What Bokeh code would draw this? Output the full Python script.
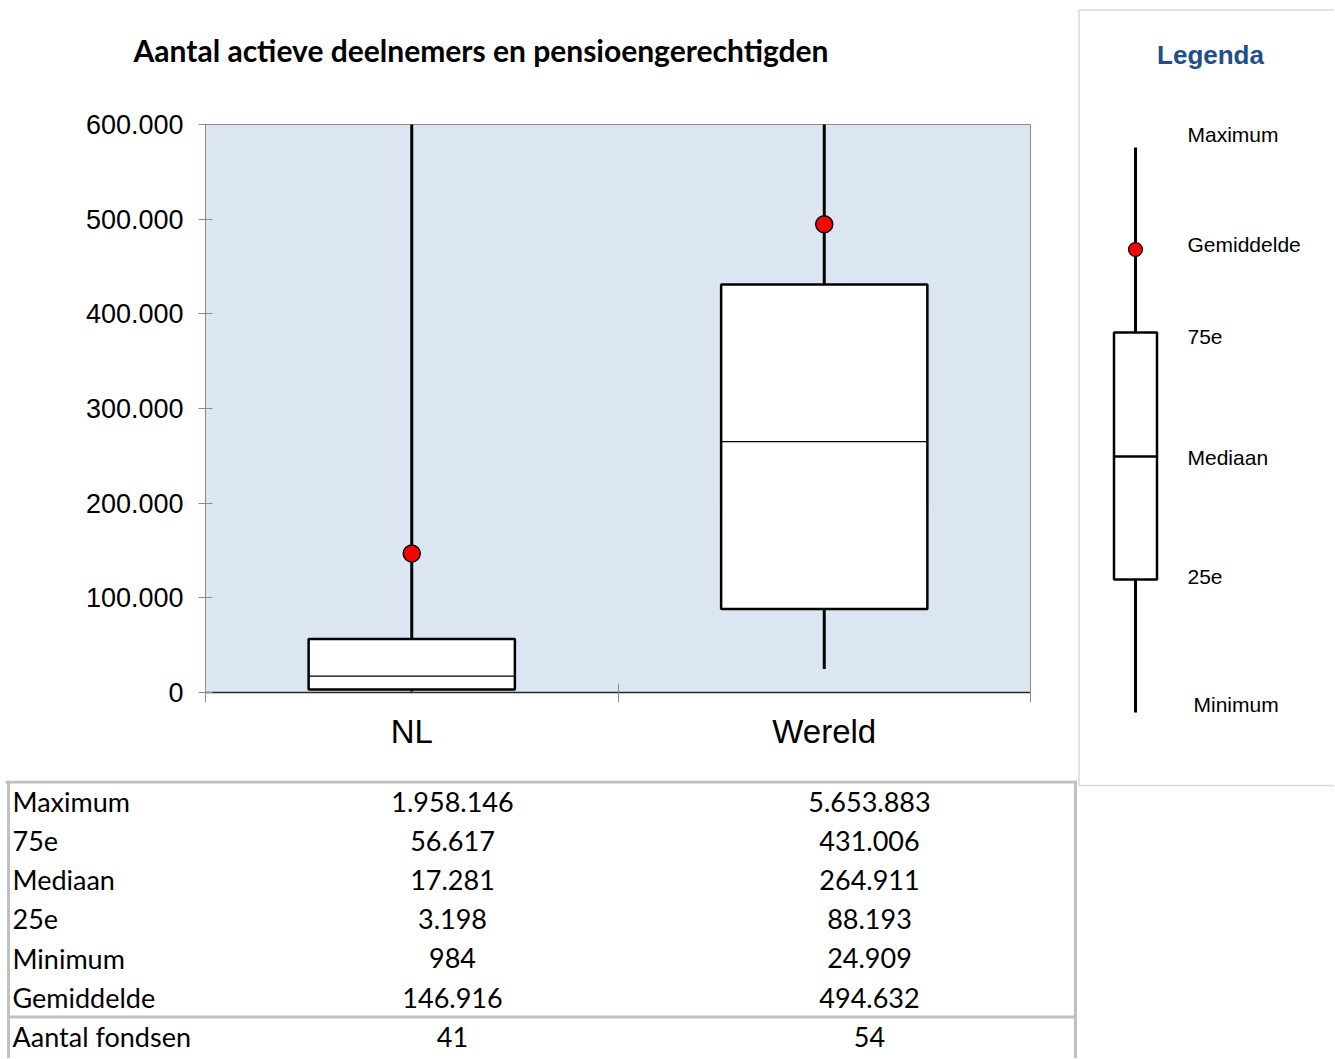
from bokeh.plotting import figure
from bokeh.models import Range1d, FixedTicker
from bokeh.layouts import row, column
from bokeh.core.properties import value
from bokeh.embed import file_html
from bokeh.resources import INLINE

# ---------------- data ----------------
title_text = "Aantal  actieve deelnemers en pensioengerechtigden"
categories = ["NL", "Wereld"]
maximum = [1958146, 5653883]
q75 = [56617, 431006]
median = [17281, 264911]
q25 = [3198, 88193]
minimum = [984, 24909]
mean = [146916, 494632]
n_funds = [41, 54]

row_labels = ["Maximum", "75e", "Mediaan", "25e", "Minimum", "Gemiddelde", "Aantal fondsen"]
y_ticks = [0, 100000, 200000, 300000, 400000, 500000, 600000]
y_max = 600000

legend_title = "Legenda"
legend_labels = ["Maximum", "Gemiddelde", "75e", "Mediaan", "25e", "Minimum"]


def nl_fmt(v):
    return f"{v:,}".replace(",", ".")


def blank_panel(w, h):
    f = figure(output_backend="svg", toolbar_location=None, width=w, height=h,
               x_range=Range1d(0, w), y_range=Range1d(h, 0),
               min_border=0, border_fill_color="white", background_fill_color="white")
    f.frame_align = False
    f.axis.visible = False
    f.grid.visible = False
    f.outline_line_color = None
    return f


# ---------------- header (title) ----------------
HEAD_H = 100
hd = blank_panel(1077, HEAD_H)
hd.text(x=[133], y=[49], text=[title_text], text_align="left", text_baseline="middle",
        text_font=value("Lato"), text_font_style="bold",
        text_font_size=value("30px"), text_color="black")

# ---------------- main chart ----------------
MAIN_W, MAIN_H = 1077, 680
FRAME_W, FRAME_H = 825, 568
BL, BT = 205, 124 - HEAD_H

p = figure(output_backend="svg", toolbar_location=None,
           frame_width=FRAME_W, frame_height=FRAME_H,
           min_border_left=BL, min_border_right=MAIN_W - BL - FRAME_W,
           min_border_top=BT, min_border_bottom=MAIN_H - BT - FRAME_H,
           x_range=Range1d(0, len(categories)), y_range=Range1d(0, y_max),
           background_fill_color="#DCE6F2", border_fill_color="white")
p.frame_align = False
p.outline_line_color = "#8C8C8C"
p.outline_line_width = 1
p.grid.visible = False

xs = [i + 0.5 for i in range(len(categories))]

# y axis
ya = p.yaxis[0]
ya.ticker = FixedTicker(ticks=y_ticks)
ya.major_label_overrides = {t: nl_fmt(t) for t in y_ticks}
ya.major_label_text_font = "Liberation Sans"
ya.major_label_text_font_size = "27px"
ya.major_label_text_color = "black"
ya.axis_line_color = "#8C8C8C"
ya.major_tick_line_color = "#8C8C8C"
ya.major_tick_in = 7
ya.major_tick_out = 7
ya.major_label_standoff = 15
ya.minor_tick_line_color = None

# x axis
xa = p.xaxis[0]
xa.ticker = FixedTicker(ticks=xs, minor_ticks=list(range(len(categories) + 1)))
xa.major_label_overrides = {x: c for x, c in zip(xs, categories)}
xa.major_label_text_font = "Liberation Sans"
xa.major_label_text_font_size = "33px"
xa.major_label_text_color = "black"
xa.major_tick_line_color = None
xa.major_tick_in = 0
xa.major_tick_out = 0
xa.major_label_standoff = 10
xa.minor_tick_line_color = "#8C8C8C"
xa.minor_tick_in = 9
xa.minor_tick_out = 10
xa.axis_line_color = "#262626"
xa.axis_line_width = 1.5

# whiskers
p.segment(x0=xs, y0=q75, x1=xs, y1=maximum, line_color="black", line_width=3)
p.segment(x0=xs, y0=minimum, x1=xs, y1=q25, line_color="black", line_width=3)
# boxes
p.vbar(x=xs, width=0.5, top=q75, bottom=q25, fill_color="white",
       line_color="black", line_width=2.5)
# median
p.segment(x0=[x - 0.25 for x in xs], y0=median, x1=[x + 0.25 for x in xs], y1=median,
          line_color="black", line_width=1.2)
# mean
p.scatter(x=xs, y=mean, size=17, marker="circle", fill_color="#FF0000",
          line_color="black", line_width=1.5)

# ---------------- table ----------------
TAB_W, TAB_H = 1077, 278
t = blank_panel(TAB_W, TAB_H)

ROW0, ROWH = 21, 39.2
row_y = [ROW0 + i * ROWH for i in range(len(row_labels))]
col_nl, col_w = 452, 869
nl_vals = [maximum[0], q75[0], median[0], q25[0], minimum[0], mean[0], n_funds[0]]
w_vals = [maximum[1], q75[1], median[1], q25[1], minimum[1], mean[1], n_funds[1]]

# borders
sep_y = row_y[5] + ROWH / 2
t.segment(x0=[5, 8, 1075, 8], y0=[1.5, 0, 0, sep_y],
          x1=[1077, 8, 1075, 1075], y1=[1.5, TAB_H, TAB_H, sep_y],
          line_color="#C0C0C0", line_width=3)

tf = dict(text_font=value("Lato"), text_font_size=value("27px"),
          text_baseline="middle", text_color="black")
t.text(x=[12] * len(row_labels), y=row_y, text=row_labels, text_align="left", **tf)
t.text(x=[col_nl] * len(row_labels), y=row_y, text=[nl_fmt(v) for v in nl_vals],
       text_align="center", **tf)
t.text(x=[col_w] * len(row_labels), y=row_y, text=[nl_fmt(v) for v in w_vals],
       text_align="center", **tf)

# ---------------- legend ----------------
LEG_W, LEG_H = 257, 787
lg = blank_panel(LEG_W, LEG_H)

# light frame of the legend box
lg.segment(x0=[1.5, 1, 1], y0=[9, 9.5, 785], x1=[1.5, LEG_W, LEG_W], y1=[785, 9.5, 785],
           line_color="#DADADA", line_width=1.5)

lg.text(x=[133], y=[54], text=[legend_title], text_align="center", text_baseline="middle",
        text_font=value("Liberation Sans"), text_font_style="bold",
        text_font_size=value("26px"), text_color="#1F4E8A")

# schematic positions (pixels in the legend panel)
leg_lx = 58
leg_levels = {"Maximum": 147, "Gemiddelde": 249, "75e": 332, "Mediaan": 456, "25e": 579, "Minimum": 712}
lg.segment(x0=[leg_lx, leg_lx], y0=[leg_levels["Maximum"], leg_levels["25e"]],
           x1=[leg_lx, leg_lx], y1=[leg_levels["75e"], leg_levels["Minimum"]],
           line_color="black", line_width=3)
lg.quad(left=[leg_lx - 21.5], right=[leg_lx + 21.5], top=[leg_levels["75e"]],
        bottom=[leg_levels["25e"]], fill_color="white", line_color="black", line_width=2.5)
lg.segment(x0=[leg_lx - 21.5], y0=[leg_levels["Mediaan"]], x1=[leg_lx + 21.5],
           y1=[leg_levels["Mediaan"]], line_color="black", line_width=2.5)
lg.scatter(x=[leg_lx], y=[leg_levels["Gemiddelde"]], size=14, marker="circle",
           fill_color="#FF0000", line_color="black", line_width=1.2)

label_y = [134, 244, 336, 457, 576, 704]
label_x = [110, 110, 110, 110, 110, 116]
lg.text(x=label_x, y=label_y, text=legend_labels, text_align="left", text_baseline="middle",
        text_font=value("Liberation Sans"), text_font_size=value("21px"), text_color="black")

layout = row(column(hd, p, t), lg)
open("out.html", "w").write(file_html(layout, INLINE))
